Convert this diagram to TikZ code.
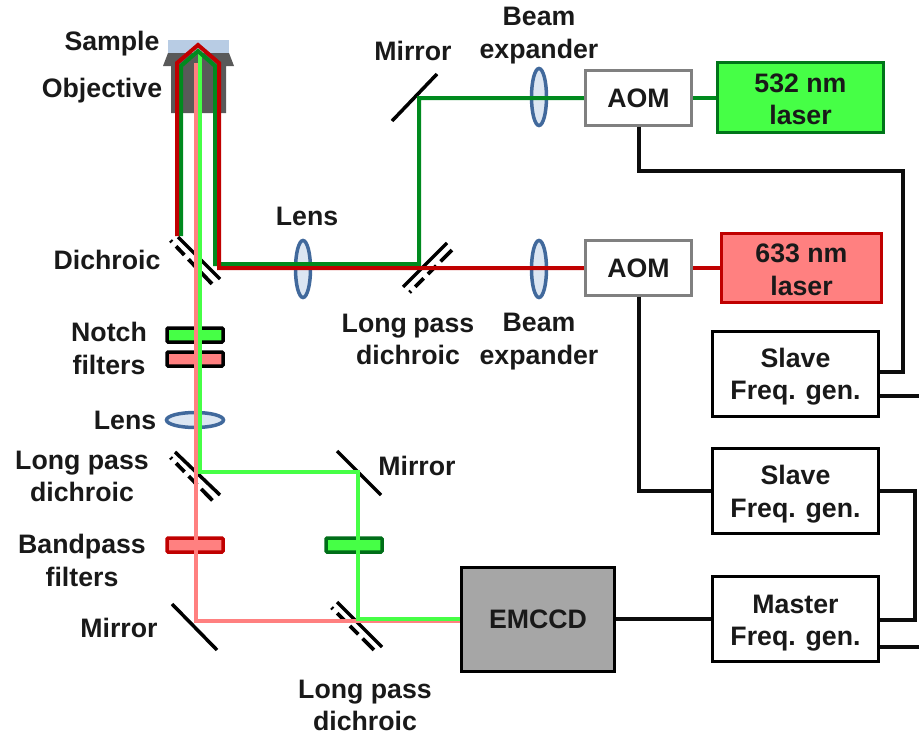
\documentclass[tikz,border=0pt]{standalone}
\usepackage{fontspec}
\setmainfont{Liberation Sans}
\usetikzlibrary{shapes.geometric}
\definecolor{beamred}{HTML}{C00000}
\definecolor{beamgreen}{HTML}{008A1E}
\definecolor{lightred}{HTML}{FF8080}
\definecolor{lightgreen}{HTML}{46FF46}
\definecolor{lensfill}{HTML}{DCE6F2}
\definecolor{lensline}{HTML}{41699C}
\definecolor{samplec}{HTML}{B8CCE4}
\definecolor{objc}{HTML}{595959}
\newcommand{\tls}[1]{\rule{0pt}{#1pt}}
\tikzset{
  x=1pt,y=-1pt,
  lbl/.style={font=\fontsize{26.7}{32.3}\selectfont\bfseries,text=black!90,align=center,inner sep=0pt},
  boxn/.style={draw,line width=3.2pt,rectangle,inner sep=0pt,font=\fontsize{26.7}{32.3}\selectfont\bfseries,text=black!90,align=center},
  wire/.style={line width=3.2pt,black!95,line join=miter},
  lensn/.style={ellipse,draw=lensline,fill=lensfill,line width=3.5pt,inner sep=0pt},
  filt/.style={rectangle,rounded corners=1pt,draw,line width=3.5pt,inner sep=0pt,minimum width=56pt,minimum height=14pt},
  rbeam/.style={line width=4pt,beamred,line join=miter},
  gbeam/.style={line width=4pt,beamgreen,line join=miter},
  lrbeam/.style={line width=4pt,lightred,line join=miter},
  lgbeam/.style={line width=4pt,lightgreen,line join=miter},
  mirr/.style={line width=3.5pt,black},
  dsh/.style={line width=3.8pt,black,dash pattern=on 2pt off 6pt on 12pt off 6pt on 12pt off 6pt on 16pt off 5pt},
}
\begin{document}
\begin{tikzpicture}
\useasboundingbox (0,0) rectangle (919,736);
% sample and objective
\fill[samplec] (168,40) rectangle (229,54);
\fill[objc] (168,53) -- (229,53) -- (234,66) -- (226,66) -- (226,113) -- (171,113) -- (171,66) -- (163,66) -- cycle;
% coordinates
\coordinate (rL) at (177,236);
\coordinate (rLt) at (177,63);
\coordinate (rA) at (198,45);
\coordinate (rRt) at (219,63);
\coordinate (rC) at (219,268);
\coordinate (gL) at (181,236);
\coordinate (gLt) at (181,66);
\coordinate (gA) at (198,51);
\coordinate (gRt) at (215,66);
\coordinate (gC) at (215,264);
\coordinate (gJ) at (419,264);
\coordinate (gT) at (419,98);
\coordinate (lrT) at (196,63);
\coordinate (lrB) at (196,621);
\coordinate (lgT) at (200,52);
\coordinate (lgJ) at (200,472);
\coordinate (lgK) at (358,472);
\coordinate (lgB) at (358,619);
% nodes
\node[boxn,draw=black!50,fill=white,minimum width=106pt,minimum height=55pt] (aomA) at (638.5,98) {AOM};
\node[boxn,draw=black!50,fill=white,minimum width=106pt,minimum height=55pt] (aomB) at (638.5,268) {AOM};
\node[boxn,draw=beamgreen!85!black,fill=lightgreen,minimum width=166pt,minimum height=70pt] (lasG) at (800.5,97.5) {\tls{22}532 nm\\laser};
\node[boxn,draw=beamred,fill=lightred,minimum width=160pt,minimum height=69pt] (lasR) at (801.5,268) {\tls{22}633 nm\\laser};
\node[boxn,draw=black,fill=white,minimum width=166pt,minimum height=85pt] (slvA) at (795.5,374) {\tls{24.5}Slave\\Freq. gen.};
\node[boxn,draw=black,fill=white,minimum width=166pt,minimum height=85pt] (slvB) at (795.5,491) {\tls{25.5}Slave\\Freq. gen.};
\node[boxn,draw=black,fill=white,minimum width=166pt,minimum height=85pt] (mst) at (795.5,619) {\tls{26.5}Master\\Freq. gen.};
\node[boxn,draw=black,fill=black!35,minimum width=153pt,minimum height=104pt] (emc) at (538,619.5) {EMCCD};
% lenses
\node[lensn,minimum width=15pt,minimum height=57pt] (lensA) at (303,269) {};
\node[lensn,minimum width=15pt,minimum height=57pt] (lensB) at (539,97) {};
\node[lensn,minimum width=15pt,minimum height=57pt] (lensC) at (539,269) {};
\node[lensn,minimum width=57pt,minimum height=15pt] (lensD) at (195,420) {};
% filters
\node[filt,draw=black,fill=lightgreen] (fN1) at (195,335) {};
\node[filt,draw=black,fill=lightred] (fN2) at (195,359) {};
\node[filt,draw=beamred,fill=lightred] (fB1) at (195,545) {};
\node[filt,draw=beamgreen!80!black,fill=lightgreen] (fB2) at (354,545) {};
% mirrors
\draw[mirr] (392,121) -- (437,74);
\draw[mirr] (337,451) -- (381,495);
\draw[mirr] (172,604) -- (217,650);
% dichroics
\draw[mirr] (178,237) -- (220,279);
\draw[dsh] (170.5,240.5) -- (213.5,285.5);
\draw[mirr] (175,452) -- (220,495);
\draw[dsh] (170.5,457.5) -- (213.5,501.5);
\draw[mirr] (403,287) -- (447,243);
\draw[dsh] (409.5,292.5) -- (453.5,248.5);
\draw[mirr] (337,602) -- (382,647);
\draw[dsh] (331.5,607.5) -- (375.5,651.5);
% light beams
\draw[lrbeam] (lrT) -- (lrB) -- (emc.west |- lrB);
\draw[lgbeam] (lgT) -- (lgJ) -- (lgK) -- (lgB) -- (emc.west |- lgB);
% laser beams
\draw[gbeam] (gL) -- (gLt) -- (gA) -- (gRt) -- (gC) -- (gJ) -- (gT) -- (aomA.west |- gT);
\draw[gbeam] (aomA.east) -- (lasG.west |- aomA.east);
\draw[rbeam] (rL) -- (rLt) -- (rA) -- (rRt) -- (rC) -- (aomB.west |- rC);
\draw[rbeam] (aomB.east) -- (lasR.west |- aomB.east);
% wires
\coordinate (wA) at (639,171);
\coordinate (wB) at (903,171);
\coordinate (wBe) at (903,372);
\coordinate (wC) at (639,491);
\coordinate (wD) at (915,491);
\coordinate (wDe) at (915,620);
\coordinate (endA) at (919,396);
\coordinate (endB) at (919,647);
\draw[wire] (aomA.south -| wA) -- (wA) -- (wB) -- (wBe) -- (slvA.east |- wBe);
\draw[wire] (slvA.east |- endA) -- (endA);
\draw[wire] (aomB.south -| wC) -- (wC) -- (slvB.west |- wC);
\draw[wire] (slvB.east) -- (wD) -- (wDe) -- (mst.east |- wDe);
\draw[wire] (emc.east |- mst.west) -- (mst.west);
\draw[wire] (mst.east |- endB) -- (endB);
% labels
\node[lbl] (t1) at (112,44) {Sample};
\node[lbl] (t2) at (102,91) {Objective};
\node[lbl] (t3) at (413,51) {Mirror};
\node[lbl] (t4) at (539,35.5) {Beam\\expander};
\node[lbl] (t5) at (307,216) {Lens};
\node[lbl] (t6) at (107,260) {Dichroic};
\node[lbl] (t7) at (408,339.5) {Long\hspace{-1pt} pass\\dichroic};
\node[lbl] (t8) at (539,341.5) {Beam\\expander};
\node[lbl] (t9) at (109,348.5) {Notch\\filters};
\node[lbl] (t10) at (125,420) {Lens};
\node[lbl] (t11) at (82,476.5) {Long pass\\dichroic};
\node[lbl] (t12) at (82,560.5) {Bandpass\\filters};
\node[lbl] (t13) at (119,628) {Mirror};
\node[lbl] (t14) at (417,466) {Mirror};
\node[lbl] (t15) at (365,705.5) {Long pass\\dichroic};
\end{tikzpicture}
\end{document}
